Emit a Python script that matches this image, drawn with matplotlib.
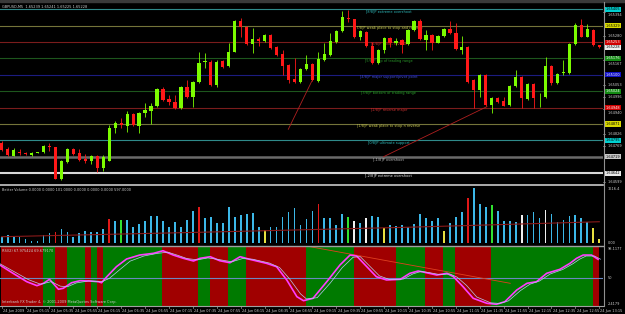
import matplotlib
matplotlib.use("Agg")
import matplotlib.pyplot as plt
from matplotlib.transforms import blended_transform_factory
from matplotlib.patches import Rectangle
from matplotlib.lines import Line2D
import numpy as np

# GBPUSD M5, 24 Jun 2009, prices in points (1e-5)
open_pts = [164783, 164755, 164724, 164742, 164738, 164726, 164736, 164740, 164766, 164763,
            164615, 164696, 164755, 164735, 164707, 164699, 164722, 164668, 164700, 164854,
            164874, 164863, 164918, 164863, 164924, 164933, 164955, 165033, 164987, 164975,
            164944, 165042, 164995, 165068, 165160, 165161, 165053, 165164, 165141, 165208,
            165352, 165321, 165242, 165265, 165259, 165285, 165231, 165197, 165146, 165079,
            165068, 165126, 165149, 165071, 165169, 165192, 165254, 165305, 165366, 165358,
            165274, 165300, 165234, 165153, 165215, 165270, 165249, 165262, 165242, 165308,
            165352, 165262, 165285, 165249, 165280, 165313, 165293, 165215, 165231, 165076,
            165029, 165099, 164960, 164991, 164978, 164960, 165048, 165091, 164986, 165057,
            164995, 164998, 165142, 165060, 165110, 165110, 165243, 165332, 165277, 165308,
            165239]
high_pts = [164792, 164764, 164760, 164753, 164741, 164739, 164741, 164773, 164781, 164766,
            164704, 164760, 164760, 164753, 164730, 164725, 164725, 164725, 164867, 164885,
            164898, 164933, 164922, 164927, 164967, 164967, 165039, 165045, 165006, 165006,
            165046, 165076, 165071, 165208, 165200, 165167, 165167, 165169, 165249, 165357,
            165363, 165325, 165316, 165277, 165290, 165290, 165234, 165215, 165150, 165177,
            165132, 165192, 165153, 165208, 165247, 165293, 165308, 165397, 165401, 165362,
            165308, 165304, 165254, 165220, 165277, 165277, 165271, 165267, 165313, 165355,
            165358, 165308, 165290, 165285, 165318, 165352, 165342, 165280, 165234, 165080,
            165104, 165104, 164998, 164998, 164998, 165053, 165122, 165094, 165062, 165062,
            165015, 165181, 165148, 165108, 165169, 165248, 165342, 165360, 165336, 165313,
            165241]
low_pts = [164746, 164722, 164720, 164727, 164727, 164722, 164734, 164736, 164746, 164613,
           164611, 164692, 164727, 164699, 164688, 164685, 164648, 164654, 164697, 164828,
           164851, 164835, 164860, 164831, 164905, 164871, 164950, 164978, 164960, 164941,
           164941, 164994, 164950, 165064, 165132, 165048, 165045, 165132, 165136, 165204,
           165277, 165239, 165200, 165234, 165255, 165220, 165187, 165099, 165060, 165064,
           165060, 165122, 165071, 165066, 165164, 165187, 165250, 165301, 165347, 165271,
           165262, 165229, 165150, 165150, 165200, 165231, 165239, 165200, 165239, 165304,
           165262, 165215, 165215, 165246, 165276, 165290, 165215, 165197, 165064, 164946,
           164998, 164955, 164924, 164969, 164953, 164955, 165043, 164946, 164983, 164946,
           164950, 164994, 165053, 165057, 165099, 165106, 165239, 165274, 165274, 165234,
           165225]
close_pts = [164750, 164727, 164750, 164735, 164730, 164735, 164739, 164769, 164764, 164615,
             164699, 164755, 164732, 164704, 164699, 164722, 164668, 164719, 164854, 164874,
             164867, 164918, 164865, 164924, 164936, 164955, 165033, 164983, 164975, 164944,
             165042, 164998, 165068, 165156, 165162, 165053, 165161, 165138, 165208, 165352,
             165321, 165242, 165265, 165259, 165285, 165223, 165192, 165142, 165076, 165068,
             165127, 165149, 165076, 165172, 165195, 165257, 165305, 165368, 165358, 165274,
             165305, 165234, 165153, 165215, 165270, 165247, 165259, 165239, 165308, 165352,
             165265, 165285, 165249, 165280, 165313, 165293, 165219, 165228, 165068, 165029,
             165099, 164960, 164991, 164975, 164956, 165048, 165091, 164991, 165057, 164991,
             164999, 165142, 165060, 165104, 165114, 165243, 165332, 165277, 165312, 165239,
             165228]

# Murrey math levels (-2/8 .. 8/8)
mm_names = ["[-2/8]P extreme overshoot", "[-1/8]P overshoot", "[0/8]P ultimate support",
            "[1/8]P weak place to stop n reverse", "[2/8]P reverse major",
            "[3/8]P bottom of trading range", "[4/8]P major support/pivot point",
            "[5/8]P top of trading range", "[6/8]P pivot, reverse",
            "[7/8]P weak place to stop and reverse", "[8/8]P extreme overshoot"]
mm_levels = [1.646423, 1.647186, 1.647949, 1.648712, 1.649475, 1.650238,
             1.651001, 1.651764, 1.652527, 1.653290, 1.654053]
price_ticks = [1.65394, 1.65280, 1.65167, 1.65053, 1.64996, 1.64940,
               1.64826, 1.64769, 1.64599]

# hand-drawn trend lines (bar index, price)
trend_x = [[47.96, 51.9], [63.9, 81.2]]
trend_y = [[1.648465, 1.650710], [1.647190, 1.649520]]

# Better Volume
volume = [154, 219, 200, 154, 97, 57, 57, 219, 285, 314,
          382, 314, 154, 285, 333, 314, 314, 382, 675, 627,
          647, 647, 456, 533, 618, 761, 761, 618, 456, 599,
          439, 647, 903, 1026, 695, 741, 570, 553, 1009, 724,
          789, 818, 855, 439, 362, 456, 456, 741, 866, 980,
          504, 675, 903, 1103, 695, 695, 504, 809, 724, 618,
          553, 695, 761, 724, 410, 504, 476, 504, 456, 533,
          818, 713, 618, 695, 333, 570, 741, 866, 1265, 1568,
          1094, 1026, 1074, 903, 627, 627, 581, 789, 789, 866,
          713, 932, 809, 581, 647, 761, 789, 695, 599, 410,
          101]
vol_kind = ("bbbbbbbbbr" "bbbbbbbbrb" "gbbbbbbbbb" "bbbrbbbbbb" "bbbbybbbbb"
            "bbbrbbbbgw" "bwbbybbbbb" "bbbbybbbrb" "bbgbbbbwbb" "bwbbbbbbby" "y")
vol_ma_x = [0, 34, 68, 100]
vol_ma = [170, 300, 440, 597]

# RSI panel: background state per bar, main line, signal line, trend line
rsi_bg = ("RRRRRRRGGRRGGGRGRGGGGGGGGGGRRRRRRGGRRRGGGRRRRRRRRRRGGGGGGGG"
          "RRRRRRRGGGGGRRRGGRRRRRRGGGGGGGGGGGGGGGGGR-")
rsi_x = [-0.3, 1.9, 4.2, 5.9, 7.0, 8.0, 8.6, 9.5, 10.3, 11.7, 13.1, 14.8, 16.2, 16.7, 17.6,
         19.2, 20.9, 23.1, 25.4, 27.0, 28.7, 30.4, 32.1, 33.2, 34.9, 36.5, 38.2, 39.9, 41.5,
         44.3, 46.0, 47.7, 49.4, 50.5, 52.1, 54.4, 56.6, 58.3, 59.4, 61.1, 62.7, 64.4, 66.7,
         68.3, 69.7, 71.1, 72.8, 74.5, 75.6, 77.2, 78.9, 81.2, 82.8, 84.2, 86.2, 87.9, 89.5,
         91.2, 93.4, 95.1, 96.2, 97.3, 98.7, 99.8]
rsi_v = [69.9, 57.0, 43.9, 37.7, 41.4, 47.6, 41.4, 32.1, 33.6, 42.3, 45.5, 45.0, 43.9, 42.3, 51.7,
         67.3, 79.3, 85.5, 88.2, 92.2, 85.5, 80.4, 76.2, 80.4, 82.9, 76.6, 73.5, 82.9, 78.8,
         72.6, 67.3, 46.6, 20.5, 14.3, 18.0, 43.9, 69.9, 85.5, 84.0, 67.3, 51.7, 46.6, 47.6,
         57.0, 60.6, 57.9, 54.3, 57.0, 51.7, 36.1, 18.0, 10.2, 8.7, 12.7, 31.0, 41.4, 43.9,
         57.0, 63.2, 72.6, 80.4, 85.5, 85.5, 78.8]
sig_x = [-0.3, 2, 4.5, 6.5, 8.3, 9.8, 11, 12.5, 14.5, 16.8, 18, 19.8, 21.5, 23.8, 26, 27.8,
         29.5, 31, 32.8, 34.5, 36, 38.5, 40.3, 42, 44.8, 46.5, 48.2, 50, 51, 52.8, 55, 57,
         58.8, 60, 61.6, 63.2, 65, 67.2, 68.8, 70.2, 71.6, 73.3, 75, 76.2, 77.8, 79.5, 81.8,
         83.3, 84.8, 86.8, 88.4, 90, 91.8, 93.9, 95.6, 96.7, 97.8, 99.2, 100.2]
sig_v = [72, 60, 47, 40, 44, 37, 36, 42, 45, 44, 49, 63, 76, 84, 88, 90,
         85, 80, 78, 81, 79, 75, 80, 79, 73, 66, 48, 25, 17, 19, 42, 66,
         82, 83, 68, 53, 47, 48, 56, 60, 58, 55, 56, 51, 38, 20, 11,
         10, 14, 30, 40, 45, 56, 63, 72, 79, 84, 84, 79]
rsi_trend_x = [51.6, 85.1]
rsi_trend_y = [98.5, 41.4]

time_labels = ["24 Jun 2009", "24 Jun 05:15", "24 Jun 05:35", "24 Jun 05:55", "24 Jun 06:15",
               "24 Jun 06:35", "24 Jun 06:55", "24 Jun 07:15", "24 Jun 07:35", "24 Jun 07:55",
               "24 Jun 08:15", "24 Jun 08:35", "24 Jun 08:55", "24 Jun 09:15", "24 Jun 09:35",
               "24 Jun 09:55", "24 Jun 10:15", "24 Jun 10:35", "24 Jun 10:55", "24 Jun 11:15",
               "24 Jun 11:35", "24 Jun 11:55", "24 Jun 12:15", "24 Jun 12:35", "24 Jun 12:55",
               "24 Jun 13:15"]

# ---- styling ----
BG = "black"
TXT = "#d0d0d0"
BULL = "#7cfc00"
BEAR = "#ff1818"
FS = 2.5
mm_line = ["#d8d8d8", "#6a6a6a", "#2f8a8a", "#74743a", "#7a1c1c", "#1d561d",
           "#1c1c80", "#1d561d", "#7a1c1c", "#74743a", "#2f8a8a"]
mm_lw = [1.5, 1.8, 0.8, 0.8, 0.8, 0.8, 0.8, 0.8, 0.8, 0.8, 0.8]
mm_text = ["#e8e8e8", "#bdbdbd", "#30c0c0", "#c8c850", "#d03030", "#2a9a2a",
           "#4050e0", "#2a9a2a", "#d03030", "#c8c850", "#30c0c0"]
mm_box = ["#e8e8e8", "#c8c8c8", "#00d0d0", "#d8d800", "#d00000", "#128a12",
          "#1010c8", "#128a12", "#d00000", "#d8d800", "#00d0d0"]
mm_boxtxt = ["black", "black", "black", "black", "white", "white",
             "white", "white", "white", "black", "black"]
VOLC = {"b": "#3cb8e8", "r": "#e01818", "g": "#30e030", "w": "#f0f0f0", "y": "#e8e040"}
BGC = {"R": "#a00000", "G": "#007a00"}

o = np.array(open_pts) / 1e5
h = np.array(high_pts) / 1e5
l = np.array(low_pts) / 1e5
c = np.array(close_pts) / 1e5
idx = np.arange(len(c))

W, H = 625, 314
fig = plt.figure(figsize=(W / 100, H / 100), dpi=100, facecolor=BG)
fig.patches.append(Rectangle((0, 1 - 2 / H), 1, 2 / H, transform=fig.transFigure,
                             color="#3a3a3a", zorder=0))

XL = (-0.28, 100.62)


def panel(y0, y1):
    ax = fig.add_axes([0, 1 - y1 / H, 603 / W, (y1 - y0) / H])
    ax.set_facecolor(BG)
    ax.set_xlim(*XL)
    ax.set_xticks([])
    ax.set_yticks([])
    for s in ax.spines.values():
        s.set_visible(False)
    return ax


axP = panel(2, 184)
axV = panel(185, 245)
axR = panel(246, 306)

# ---- price panel ----
YLO, YHI = 1.64592, 1.65439
axP.set_ylim(YLO, YHI)
PX = (YHI - YLO) / 182  # price per pixel
trP = blended_transform_factory(axP.transAxes, axP.transData)
for name, lv, lc, lw, tc in zip(mm_names, mm_levels, mm_line, mm_lw, mm_text):
    axP.axhline(lv, color=lc, lw=lw, zorder=1)
    axP.text(64.8, lv - 0.00001, name, color=tc, fontsize=FS, ha="center", va="top", zorder=2)

for tx, ty in zip(trend_x, trend_y):
    axP.plot(tx, ty, color="#b02020", lw=0.6, zorder=2)

col = np.where(c >= o, BULL, BEAR)
axP.vlines(idx, l, h, colors=col, lw=0.6, zorder=3)
body = np.maximum(np.abs(c - o), 0.00004)
axP.bar(idx, body, bottom=np.minimum(o, c), width=0.55, color=col, lw=0, zorder=4)

axP.text(0.004, 0.985, "GBPUSD,M5  %.5f %.5f %.5f %.5f" % (o[-1], h[-1], l[-1], c[-1]),
         transform=axP.transAxes, color=TXT, fontsize=FS, va="top", ha="left")

boxed = list(mm_levels) + [c[-1]]
for pt in price_ticks:
    ypos = pt
    for b in boxed:
        if abs(ypos - b) < 5.5 * PX:
            ypos = b - 5.5 * PX if ypos < b else b + 5.5 * PX
    axP.plot([1.0, 1.004], [pt, pt], transform=trP, color="#909090", lw=0.5, clip_on=False)
    axP.text(1.008, ypos, "%.5f" % pt, transform=trP, color=TXT, fontsize=FS,
             va="center", ha="left", clip_on=False)
for lv, bc, btc in zip(mm_levels, mm_box, mm_boxtxt):
    axP.text(1.005, lv, "%.5f" % lv, transform=trP, color=btc, fontsize=FS, va="center",
             ha="left", clip_on=False, zorder=6,
             bbox=dict(boxstyle="square,pad=0.15", fc=bc, ec="none"))
axP.text(1.005, c[-1], "%.5f" % c[-1], transform=trP, color="black", fontsize=FS, va="center",
         ha="left", clip_on=False, zorder=7,
         bbox=dict(boxstyle="square,pad=0.15", fc="#f0f0f0", ec="none"))

# ---- volume panel ----
axV.set_ylim(-66, 1644)
axV.bar(idx, volume, width=0.3, color=[VOLC[k] for k in vol_kind], lw=0, zorder=2)
axV.plot(vol_ma_x, vol_ma, color="#8a1a1a", lw=0.8, zorder=3)
axV.spines["top"].set_visible(True)
axV.spines["top"].set_color("#c8c8c8")
axV.spines["top"].set_linewidth(1.2)
axV.text(0.004, 0.95, "Better Volume 0.0000 0.0000 101.0000 0.0000 0.0000 0.0000 597.0000",
         transform=axV.transAxes, color=TXT, fontsize=FS, va="top", ha="left")
trV = blended_transform_factory(axV.transAxes, axV.transData)
axV.text(1.008, 1540, "1616.4", transform=trV, color=TXT, fontsize=FS, va="center", clip_on=False)
axV.text(1.008, 0, "0.00", transform=trV, color=TXT, fontsize=FS, va="center", clip_on=False)

# ---- RSI panel ----
axR.set_ylim(6.0, 99.6)
for i, k in enumerate(rsi_bg):
    if k in BGC:
        axR.axvspan(i - 0.1, i + 0.9, color=BGC[k], lw=0, zorder=0)
axR.axhline(50, color="#6a88c0", lw=0.8, zorder=1)
axR.plot(rsi_trend_x, rsi_trend_y, color="#e04020", lw=0.6, zorder=2)
axR.plot(rsi_x, rsi_v, color="#ff3cff", lw=1.2, zorder=3)
axR.plot(sig_x, sig_v, color="#b8c8f0", lw=0.5, zorder=4)
axR.spines["top"].set_visible(True)
axR.spines["top"].set_color("#a0a0a0")
axR.spines["top"].set_linewidth(1.0)
axR.spines["bottom"].set_visible(True)
axR.spines["bottom"].set_color("#a0a0a0")
axR.spines["bottom"].set_linewidth(0.8)
axR.text(0.004, 0.95, "RSI(2) 67.975424 69.679170", transform=axR.transAxes, color=TXT,
         fontsize=FS, va="top", ha="left")
axR.text(0.004, 0.03, "Interbank FX Trader 4, \u00a9 2001-2009 MetaQuotes Software Corp.",
         transform=axR.transAxes, color=TXT, fontsize=FS, va="bottom", ha="left")
trR = blended_transform_factory(axR.transAxes, axR.transData)
axR.text(1.008, 95.5, "98.1177", transform=trR, color=TXT, fontsize=FS, va="center", clip_on=False)
axR.text(1.008, 50, "50", transform=trR, color=TXT, fontsize=FS, va="center", clip_on=False)
axR.text(1.008, 9.0, "2.4179", transform=trR, color=TXT, fontsize=FS, va="center", clip_on=False)

# time axis
trT = blended_transform_factory(axR.transData, axR.transAxes)
for k, lab in enumerate(time_labels):
    x = 4 * k
    axR.plot([x, x], [0, -0.04], color="#a0a0a0", lw=0.5, transform=trT, clip_on=False)
    axR.text(x + 0.2, -0.05, lab, transform=trT, color=TXT, fontsize=FS, va="top", ha="left",
             clip_on=False)

# right scale border
fig.add_artist(Line2D([603.5 / W, 603.5 / W], [1 - 306 / H, 1 - 2 / H], color="#909090",
                      lw=0.8, transform=fig.transFigure))

fig.savefig("out.png", dpi=100, facecolor=BG)
